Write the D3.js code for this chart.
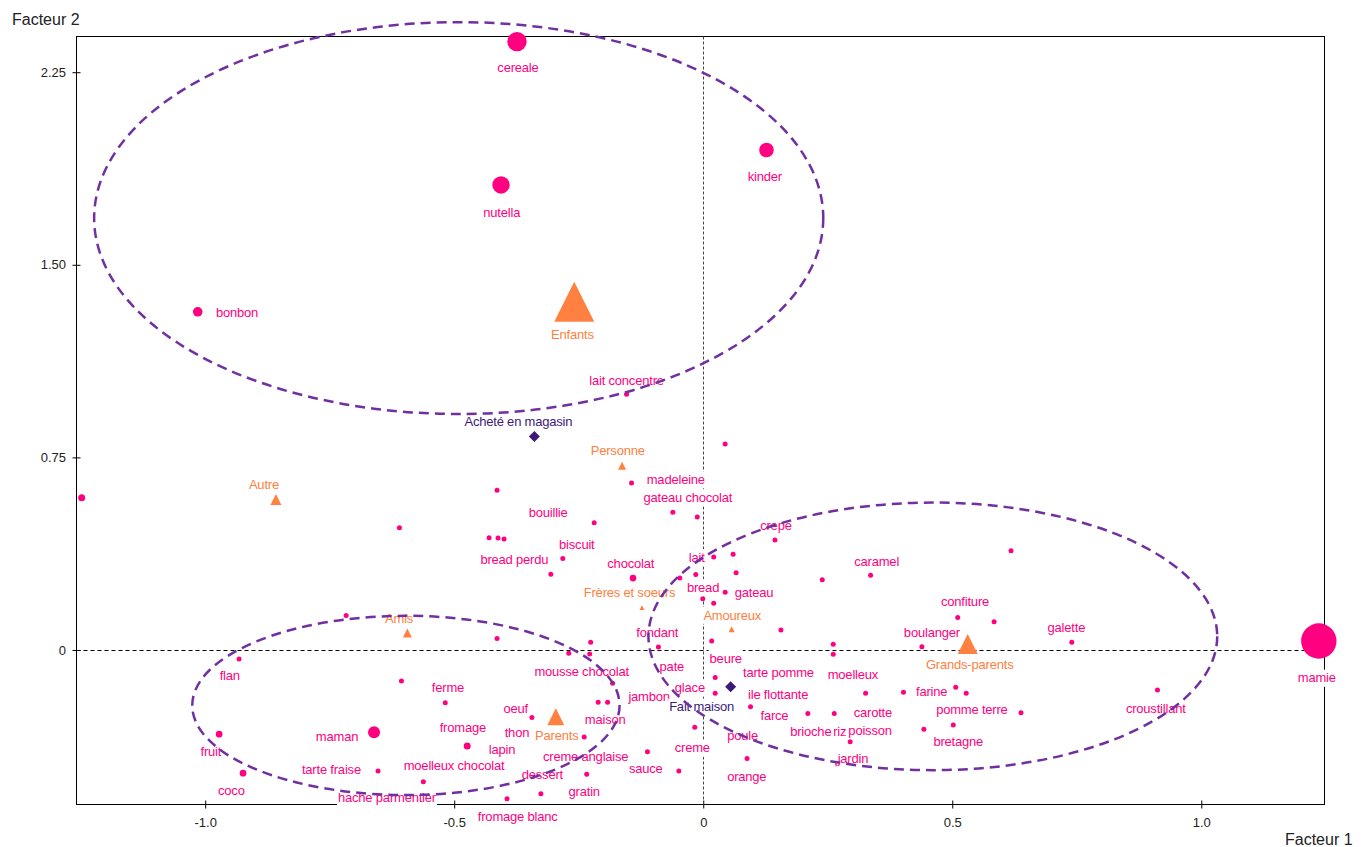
<!DOCTYPE html>
<html><head><meta charset="utf-8">
<script src="https://cdn.jsdelivr.net/npm/d3@7"></script>
<style>
body{margin:0;background:#fff}
svg{display:block}
text{font-family:"Liberation Sans",Arial,sans-serif}
</style>
</head><body>
<svg id="chart" width="1362" height="847"></svg>
<script>
// ---------- DATA ----------
const xTicks = [-1, -0.5, 0, 0.5, 1];
const xTickLabels = ["-1.0", "-0.5", "0", "0.5", "1.0"];
const yTicks = [0, 0.75, 1.5, 2.25];
const yTickLabels = ["0", "0.75", "1.50", "2.25"];
const xTitle = "Facteur 1";
const yTitle = "Facteur 2";

// words (pink dots)
const wordLabels = ["cereale","kinder","nutella","bonbon","lait concentre","","madeleine","","gateau chocolat","",
  "bouillie","","","","biscuit","bread perdu","chocolat","crepe","lait","",
  "","","","bread","gateau","","","","fondant","",
  "","mousse chocolat","beure","","moelleux","pate","jambon","","maison","",
  "glace","creme","sauce","","creme anglaise","gratin","dessert","fromage blanc","oeuf","thon",
  "ferme","","fromage","lapin","moelleux chocolat","hache parmentier","flan","fruit","coco","maman",
  "tarte fraise","","","","tarte pomme","ile flottante","farce","","","brioche",
  "poisson","riz","carotte","farine","","pomme terre","","bretagne","","jardin",
  "","poule","orange","confiture","","boulanger","caramel","","","galette",
  "croustillant","mamie"];
const wordF1 = [-0.374,0.127,-0.406,-1.015,-0.154,0.044,-0.144,-0.414,-0.061,-0.012,
  -0.219,-0.430,-0.412,-0.400,-0.282,-0.306,-0.141,0.144,0.021,0.060,
  0.066,-0.047,-0.015,-0.001,0.044,0.021,0.156,-0.414,-0.090,-0.226,
  -0.270,-0.228,0.017,0.261,0.261,-0.063,-0.182,-0.211,-0.192,0.024,
  0.024,-0.017,-0.112,-0.049,-0.239,-0.234,-0.326,-0.394,-0.344,-0.374,
  -0.518,-0.606,-0.474,-0.404,-0.562,-0.635,-0.932,-0.972,-0.924,-0.661,
  -0.653,-0.717,-0.610,-1.248,0.151,0.095,0.143,0.210,0.263,0.216,
  0.335,0.274,0.326,0.402,0.507,0.528,0.638,0.502,0.443,0.295,
  0.270,0.079,0.088,0.511,0.584,0.439,0.336,0.239,0.618,0.740,
  0.912,1.236];
const wordF2 = [2.369,1.947,1.811,1.317,0.996,0.802,0.650,0.622,0.536,0.518,
  0.495,0.437,0.436,0.432,0.356,0.295,0.280,0.428,0.362,0.373,
  0.301,0.280,0.294,0.199,0.225,0.182,0.078,0.045,0.012,0.030,
  -0.013,-0.016,0.035,0.022,-0.017,-0.065,-0.130,-0.204,-0.204,-0.107,
  -0.169,-0.301,-0.396,-0.471,-0.339,-0.484,-0.560,-0.579,-0.263,-0.320,
  -0.206,-0.121,-0.374,-0.386,-0.513,-0.574,-0.035,-0.328,-0.480,-0.320,
  -0.471,0.134,0.476,0.593,-0.088,-0.221,-0.253,-0.247,-0.247,-0.318,
  -0.312,-0.318,-0.169,-0.165,-0.145,-0.169,-0.244,-0.292,-0.309,-0.357,
  -0.445,-0.331,-0.423,0.126,0.110,0.013,0.291,0.273,0.386,0.030,
  -0.156,0.035];
const wordWeight = [376,213,303,92,25,25,25,25,25,25,
  25,25,25,25,25,25,45,25,25,25,
  25,25,25,25,25,25,25,25,25,25,
  25,25,25,25,25,25,25,25,25,25,
  25,25,25,25,25,25,25,25,25,25,
  25,25,49,25,25,25,25,45,45,144,
  25,25,25,49,25,25,25,25,25,25,
  25,25,25,25,25,25,25,25,25,25,
  25,25,25,25,25,25,25,25,25,25,
  25,1253];

// categories of people (orange triangles)
const catLabels = ["Enfants","Autre","Personne","Amis","Frères et soeurs","Amoureux","Parents","Grands-parents"];
const catF1 = [-0.259,-0.858,-0.163,-0.594,-0.123,0.057,-0.296,0.531];
const catF2 = [1.356,0.586,0.717,0.066,0.165,0.081,-0.260,0.023];
const catWeight = [400,30,16,20,6,9,72,100];

// origin (dark diamonds)
const originLabels = ["Acheté en magasin","Fait maison"];
const originF1 = [-0.339,0.055];
const originF2 = [0.831,-0.143];

// groups (dashed ellipses), in factor units
const groupCx = [-0.491,-0.597,0.461];
const groupCy = [1.682,-0.216,0.053];
const groupRx = [0.732,0.429,0.571];
const groupRy = [0.763,0.349,0.521];

// ---------- LAYOUT (label offsets in px) ----------
const wordLabelOffset = [[1,25.6],[-1.7,26],[0.7,27.7],[39.3,0.6],[0,-14.3],null,[44.3,-3.7],null,[15,-15],null,
  [-46,-10.7],null,null,null,[14,-14.7],[-36.5,-15.3],[-2.3,-14.7],[1,-14.3],[-17,0.3],null,
  null,null,null,[0.3,-11.7],[28.8,0],null,null,null,[-1.1,-14.7],null,
  null,[-8,17],[14,17],null,[19.7,19.7],[0,0],[36.5,12.7],null,[-2.4,17],null,
  [-25.3,-6],[-2.5,20.4],[-1.7,17],null,[1.5,19.3],[-2.5,17.4],[1.5,-19.4],[10.7,17.3],[-16.2,-9.5],[0,0],
  [2.7,-15.5],null,[-4.3,-18.7],[0,0],[30.7,-16.4],[0,0],[-9.3,16.7],[-8.3,17.4],[-11.7,17.4],[-37,3.7],
  [-46.6,-1.7],null,null,null,[0,0],[27.6,-12.7],[0,0],null,null,[0,0],
  [0,0],[0,0],[7.3,19.4],[28.2,-1.3],null,[5.7,16],null,[5,16.7],null,[2.8,17],
  null,[0,0],[-0.3,17.3],[7.3,-16],null,[10,-14.4],[6.1,-14.3],null,null,[-5.4,-14.6],
  [-1.7,18.3],[-2,36.7]];
const catLabelOffset = [[-1.8,32.3],[-12,-15.5],[-4.3,-15.3],[-8.3,-14.7],[-12.5,-15.4],[0.6,-14.3],[1,18.3],[2,20]];
const originLabelOffset = [[-16,-15],[-29,20]];

const PINK = "#FF0080", ORANGE = "#FF8040", DARK = "#3D1A78", PURPLE = "#7030A0";

// ---------- CHART ----------
const svg = d3.select("#chart");
const L = 76.5, R = 1324.5, T = 36.5, B = 804.5;
const x = d3.scaleLinear().domain([-1.258, 1.247]).range([76.7, 1324.3]);
const y = d3.scaleLinear().domain([-0.601, 2.391]).range([804.3, 36]);
const rScale = d3.scaleSqrt().domain([0, 1253]).range([0, 17.7]);
const triScale = d3.scaleSqrt().domain([0, 400]).range([0, 40]);

// frame
svg.append("rect").attr("x", L).attr("y", T).attr("width", R - L).attr("height", B - T)
  .attr("fill", "none").attr("stroke", "#000").attr("stroke-width", 1);

// axes
const yAxis = d3.axisLeft(y).tickValues(yTicks).tickFormat((d, i) => yTickLabels[i]).tickSize(4).tickPadding(6.5);
const gy = svg.append("g").attr("transform", `translate(${L},0)`).call(yAxis);
gy.select(".domain").remove();
gy.selectAll(".tick line").attr("x1", 4).attr("stroke", "#000");
gy.selectAll(".tick text").attr("font-size", 13).attr("fill", "#222").attr("font-family", "Liberation Sans, Arial, sans-serif");

const xAxis = d3.axisBottom(x).tickValues(xTicks).tickFormat((d, i) => xTickLabels[i]).tickSize(4).tickPadding(9);
const gx = svg.append("g").attr("transform", `translate(0,${B})`).call(xAxis);
gx.select(".domain").remove();
gx.selectAll(".tick line").attr("y1", -4).attr("stroke", "#000");
gx.selectAll(".tick text").attr("font-size", 13).attr("fill", "#222").attr("font-family", "Liberation Sans, Arial, sans-serif");

// titles
svg.append("text").attr("x", 12).attr("y", 25).attr("font-size", 16).attr("fill", "#222").text(yTitle);
svg.append("text").attr("x", 1285).attr("y", 845).attr("font-size", 16).attr("fill", "#222").text(xTitle);

// origin lines
svg.append("line").attr("x1", L).attr("x2", R).attr("y1", Math.round(y(0)) + 0.5).attr("y2", Math.round(y(0)) + 0.5)
  .attr("stroke", "#000").attr("stroke-dasharray", "4,3");
svg.append("line").attr("x1", Math.round(x(0)) + 0.5).attr("x2", Math.round(x(0)) + 0.5).attr("y1", T).attr("y2", B)
  .attr("stroke", "#444").attr("stroke-dasharray", "3,2");

// word dots
const words = wordLabels.map((l, i) => ({l, f1: wordF1[i], f2: wordF2[i], w: wordWeight[i], off: wordLabelOffset[i]}));
svg.append("g").selectAll("circle").data(words).join("circle")
  .attr("cx", d => x(d.f1)).attr("cy", d => y(d.f2)).attr("r", d => rScale(d.w)).attr("fill", PINK);

// triangles
const cats = catLabels.map((l, i) => ({l, f1: catF1[i], f2: catF2[i], w: catWeight[i], off: catLabelOffset[i]}));
svg.append("g").selectAll("path").data(cats).join("path")
  .attr("d", d => {
    const s = triScale(d.w), cx = x(d.f1), cy = y(d.f2);
    return `M${cx},${cy - s / 2}L${cx + s / 2},${cy + s / 2}L${cx - s / 2},${cy + s / 2}Z`;
  }).attr("fill", ORANGE);

// diamonds
const origins = originLabels.map((l, i) => ({l, f1: originF1[i], f2: originF2[i], off: originLabelOffset[i]}));
svg.append("g").selectAll("path").data(origins).join("path")
  .attr("d", d => {
    const h = 5.5, cx = x(d.f1), cy = y(d.f2);
    return `M${cx},${cy - h}L${cx + h},${cy}L${cx},${cy + h}L${cx - h},${cy}Z`;
  }).attr("fill", DARK);

// labels with white background
const labelG = svg.append("g");
function addLabel(d, color) {
  if (!d.l || !d.off) return;
  const cx = x(d.f1) + d.off[0], cy = y(d.f2) + d.off[1];
  const g = labelG.append("g");
  const t = g.append("text").attr("x", cx).attr("y", cy).attr("dy", "0.36em")
    .attr("text-anchor", "middle").attr("font-size", 13).attr("letter-spacing", "-0.2")
    .attr("fill", color).text(d.l);
  const w = t.node().getComputedTextLength();
  g.insert("rect", "text").attr("x", cx - w / 2 - 1).attr("y", cy - 8).attr("width", w + 2).attr("height", 17)
    .attr("fill", "#fff");
}
words.forEach(d => addLabel(d, PINK));
cats.forEach(d => addLabel(d, ORANGE));
origins.forEach(d => addLabel(d, DARK));

// group ellipses
svg.append("g").selectAll("ellipse").data(groupCx.map((c, i) => i)).join("ellipse")
  .attr("cx", i => x(groupCx[i])).attr("cy", i => y(groupCy[i]))
  .attr("rx", i => x(groupCx[i] + groupRx[i]) - x(groupCx[i]))
  .attr("ry", i => y(groupCy[i] - groupRy[i]) - y(groupCy[i]))
  .attr("fill", "none").attr("stroke", PURPLE).attr("stroke-width", 2.5).attr("stroke-dasharray", "10,6");
</script>
</body></html>
